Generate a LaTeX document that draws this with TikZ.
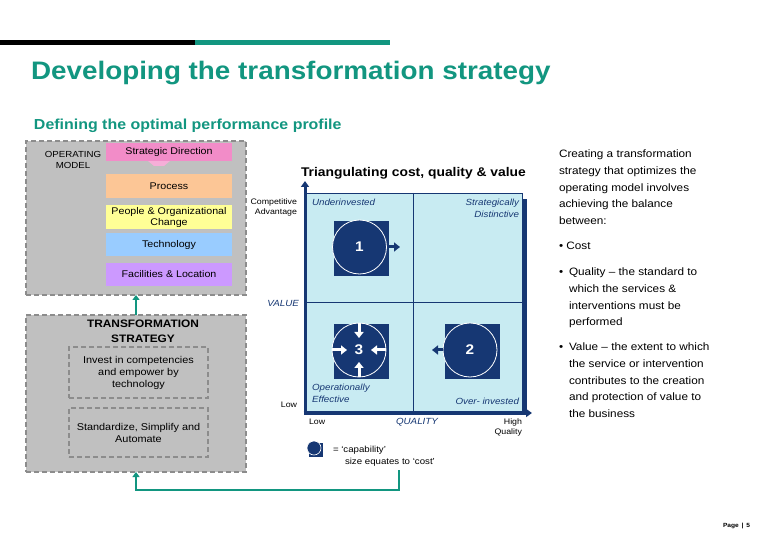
\documentclass[tikz,border=0pt]{standalone}
\usepackage{fontspec}
\setmainfont{Liberation Sans}[FakeStretch=1.1]
\usetikzlibrary{arrows.meta}
\definecolor{teal1}{RGB}{18,150,128}
\definecolor{navy}{RGB}{22,55,115}
\definecolor{cyanbg}{RGB}{200,235,242}
\definecolor{boxgray}{RGB}{192,192,192}
\definecolor{dashgray}{RGB}{140,140,140}
\definecolor{pinkc}{RGB}{242,140,200}
\definecolor{peach}{RGB}{252,198,150}
\definecolor{yellowc}{RGB}{255,255,150}
\definecolor{bluec}{RGB}{153,204,255}
\definecolor{purplec}{RGB}{204,153,255}
\newcommand\myfs[2]{\fontsize{#1}{#2}\selectfont}
\begin{document}
\begin{tikzpicture}[x=1pt,y=-1pt,
  every node/.style={inner sep=0pt, outer sep=0pt},
  dashbox/.style={draw=dashgray, fill=boxgray, line width=1.6pt, dash pattern=on 5pt off 3pt, anchor=north west},
  innerbox/.style={draw=dashgray, line width=1.4pt, dash pattern=on 5pt off 3pt, minimum width=139pt, align=center, font=\myfs{9.9}{12}},
  layer/.style={minimum width=126pt, align=center, font=\myfs{9.7}{11}, anchor=north west},
  capsq/.style={fill=navy, minimum size=55pt},
  capcirc/.style={circle, fill=navy, draw=white, line width=0.8pt, minimum size=54pt, text=white, font=\bfseries\myfs{14}{14}},
  warrow/.style={white, line width=3pt, -{Triangle[length=6pt,width=9pt]}},
  narrow/.style={navy, line width=3pt, -{Triangle[length=6pt,width=9pt]}},
  fbarrow/.style={teal1, line width=2.5pt, -{Triangle[length=5pt,width=7pt]}},
  quadlbl/.style={text=navy, font=\itshape\myfs{8.9}{12}},
  smalllbl/.style={font=\myfs{8}{9.5}},
  bodytxt/.style={anchor=north west, align=left, font=\myfs{10.7}{16.7}}
]
\useasboundingbox (0,0) rectangle (780,540);
\fill[white] (0,0) rectangle (780,540);
% header bars
\fill[black] (0,40) rectangle (195,45);
\fill[teal1] (195,40) rectangle (390,45);
\node[anchor=base west, text=teal1, font=\bfseries\myfs{25.3}{26}] (title) at (31,80) {Developing the transformation strategy};
\node[anchor=base west, text=teal1, font=\bfseries\myfs{14.5}{16}] (subtitle) at (34,130) {Defining the optimal performance profile};

% operating model
\node[dashbox, minimum width=220pt, minimum height=154pt] (om) at (26,141) {};
\node[align=center, font=\myfs{8.8}{11}] (omlabel) at (73,160) {OPERATING\\MODEL};
\fill[pinkc!70] (148,161) -- (170,161) -- (164,166) -- (154,166) -- cycle;
\node[layer, fill=pinkc, minimum height=18pt] (sd) at (106,143) {Strategic Direction};
\node[layer, fill=peach, minimum height=24pt] (proc) at (106,174) {Process};
\node[layer, fill=yellowc, minimum height=24pt] (people) at (106,205) {People \& Organizational\\Change};
\node[layer, fill=bluec, minimum height=23pt] (tech) at (106,233) {Technology};
\node[layer, fill=purplec, minimum height=23pt] (fac) at (106,263) {Facilities \& Location};

% transformation strategy
\node[dashbox, minimum width=220pt, minimum height=157pt] (tm) at (26,315) {};
\node[align=center, font=\bfseries\myfs{10.8}{15}] (tmlabel) at (143,331) {TRANSFORMATION\\STRATEGY};
\node[innerbox, minimum height=51pt] (ib1) at (138.5,372.5) {Invest in competencies\\and empower by\\technology};
\node[innerbox, minimum height=49pt] (ib2) at (138.5,432.5) {Standardize, Simplify and\\Automate};
\draw[fbarrow] (tm.north) -- (om.south);

% chart
\node[anchor=base west, font=\bfseries\myfs{12.6}{14}] (ctitle) at (301,177) {Triangulating cost, quality \& value};
\fill[navy] (309,199) rectangle (527,415);
\node[fill=cyanbg, draw=navy, line width=0.7pt, minimum width=217pt, minimum height=218pt, anchor=north west] (quad) at (305,193) {};
\draw[navy, line width=0.8pt] (quad.north) -- (quad.south);
\draw[navy, line width=0.8pt] (quad.west) -- (quad.east);
\coordinate (origin) at (305,413);
\coordinate (ytop) at (305,181);
\coordinate (xend) at (532,413);
\coordinate (xstart) at (303.5,413);
\draw[navy, line width=3pt, -{Triangle[length=6pt,width=8pt]}] (origin) -- (ytop);
\draw[navy, line width=3.5pt, -{Triangle[length=6pt,width=8pt]}] (xstart) -- (xend);

\node[anchor=north east, align=right, smalllbl] (compadv) at (297,199) {Competitive\\Advantage};
\node[anchor=north west, quadlbl] (under) at (312,199) {Underinvested};
\node[anchor=north east, align=right, quadlbl] (strat) at (519,199) {Strategically\\Distinctive};
\node[anchor=east, quadlbl] (value) at (299,303) {VALUE};
\node[anchor=east, smalllbl] (lowy) at (297,405) {Low};
\node[anchor=north west, align=left, quadlbl] (opeff) at (312,384) {Operationally\\Effective};
\node[anchor=north east, quadlbl] (over) at (519,398) {Over- invested};
\node[anchor=west, smalllbl] (lowx) at (309,422) {Low};
\node[quadlbl] (quality) at (417,422) {QUALITY};
\node[anchor=north east, align=right, smalllbl] (highq) at (522,419) {High\\Quality};

% capability 1
\node[capsq] (sq1) at (361.5,248.5) {};
\node[capcirc] (c1) at (359.5,247) {1};
\coordinate (a1) at (400,247);
\draw[narrow] (c1.east) -- (a1);
% capability 3
\node[capsq] (sq3) at (361.5,351.5) {};
\node[capcirc] (c3) at (359,350) {3};
\draw[warrow] (c3.north) -- ([yshift=-15pt]c3.north);
\draw[warrow] (c3.south) -- ([yshift=15pt]c3.south);
\draw[warrow] (c3.west) -- ([xshift=15pt]c3.west);
\draw[warrow] (c3.east) -- ([xshift=-15pt]c3.east);
% capability 2
\node[capsq] (sq2) at (472.5,351.5) {};
\node[capcirc] (c2) at (470,350) {2};
\coordinate (a2) at (432,350);
\draw[narrow] (c2.west) -- (a2);

% legend
\node[fill=navy, minimum size=14pt] (legsq) at (316,450) {};
\node[circle, fill=navy, draw=white, line width=0.6pt, minimum size=14pt] (legc) at (314,448) {};
\node[anchor=base west, font=\myfs{8.8}{10}] (leg1) at (333,452) {= `capability'};
\node[anchor=base west, font=\myfs{8.8}{10}] (leg2) at (345,464) {size equates to `cost'};

% feedback connector
\coordinate (fb) at (399,470);
\draw[fbarrow] (fb) |- ([yshift=-18pt]tm.south) -- (tm.south);

% right text
\node[bodytxt] (intro) at (559,150) {Creating a transformation\\strategy that optimizes the\\operating model involves\\achieving the balance\\between:};
\node[bodytxt] (b1) at (559,242) {• Cost};
\node[bodytxt] (b2dot) at (559,268) {\vphantom{Ql}•};
\node[bodytxt] (b2) at (569,268) {Quality – the standard to\\which the services \&\\interventions must be\\performed};
\node[bodytxt] (b3dot) at (559,343) {\vphantom{Vl}•};
\node[bodytxt] (b3) at (569,343) {Value – the extent to which\\the service or intervention\\contributes to the creation\\and protection of value to\\the business};

\node[anchor=base east, font=\bfseries\myfs{6}{7}] (pg) at (750,527) {Page \,|\, 5};
\end{tikzpicture}
\end{document}
